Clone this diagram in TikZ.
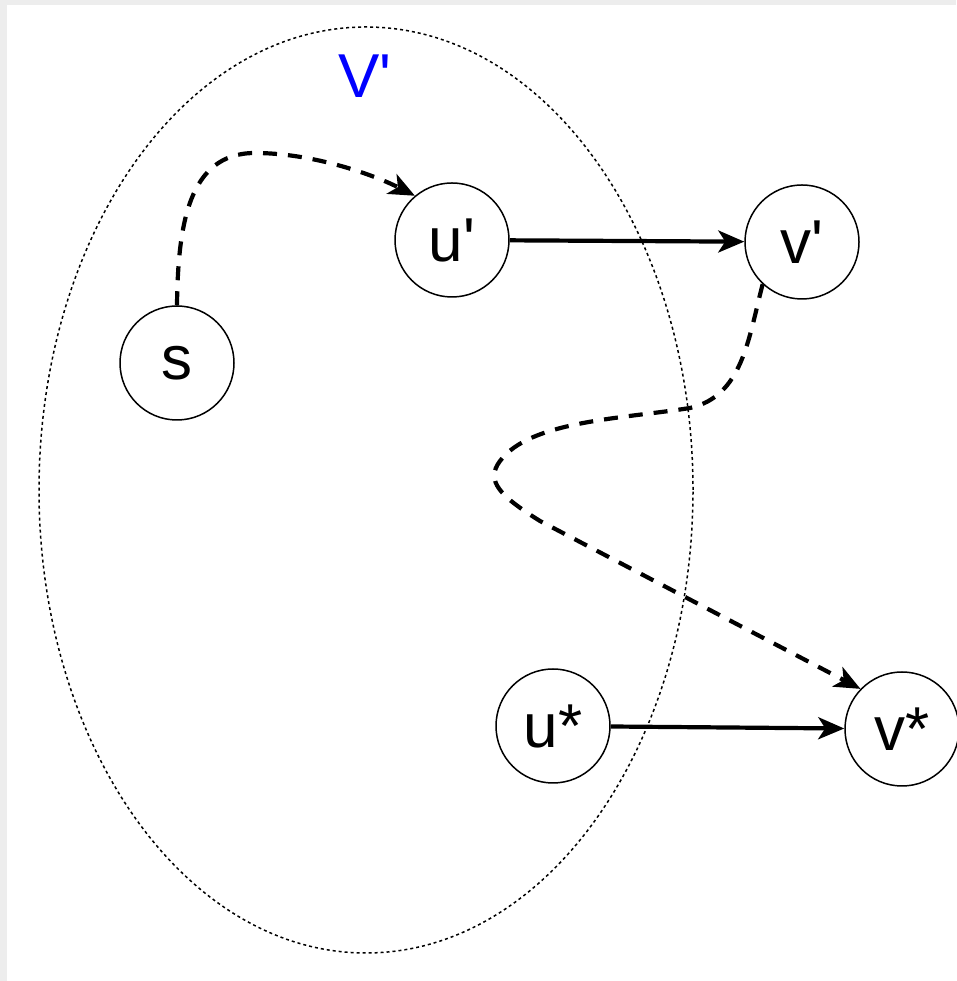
\documentclass[tikz,border=0pt]{standalone}
\usepackage{fontspec}
\setmainfont{Liberation Sans}
\usetikzlibrary{arrows.meta}
\tikzset{
  vtx/.style={circle, draw, line width=1.5pt, minimum size=114pt, inner sep=0pt, font=\fontsize{62}{68}\selectfont},
  conn/.style={line width=4.2pt, -{Stealth[length=26pt,width=22pt,inset=7pt]}},
  dconn/.style={conn, dash pattern=on 14pt off 11pt},
  region/.style={line width=1.5pt, dash pattern=on 3pt off 3pt}
}
\begin{document}
\begin{tikzpicture}[x=1pt,y=1pt]
  \fill[black!7] (0,0) rectangle (956,981);
  \fill[white] (7,0) rectangle (956,976);
  \useasboundingbox (0,0) rectangle (956,981);
  \draw[region] (366,491) ellipse [x radius=327, y radius=463];
  \node[text=blue, font=\fontsize{62}{68}\selectfont] (lbl) at (365,905) {V\textquotesingle};
  \node[vtx] (s) at (177,618) {s};
  \node[vtx] (u1) at (452,741) {u\textquotesingle};
  \node[vtx] (v1) at (802,739) {v\textquotesingle};
  \node[vtx] (u2) at (553,255) {u*};
  \node[vtx] (v2) at (902,252) {v*};
  \draw[conn] (u1) -- (v1);
  \draw[conn] (u2) -- (v2);
  \draw[dconn] (s.north) .. controls (178,755) and (188,828) .. (255,828)
     .. controls (310,828) and (370,808) .. (u1.130);
  \draw[dconn] (v1.227) .. controls (748,640) and (742,585) .. (690,573)
     .. controls (620,562) and (530,560) .. (500,520)
     .. controls (485,500) and (500,485) .. (540,460) -- (v2.136);
\end{tikzpicture}
\end{document}
